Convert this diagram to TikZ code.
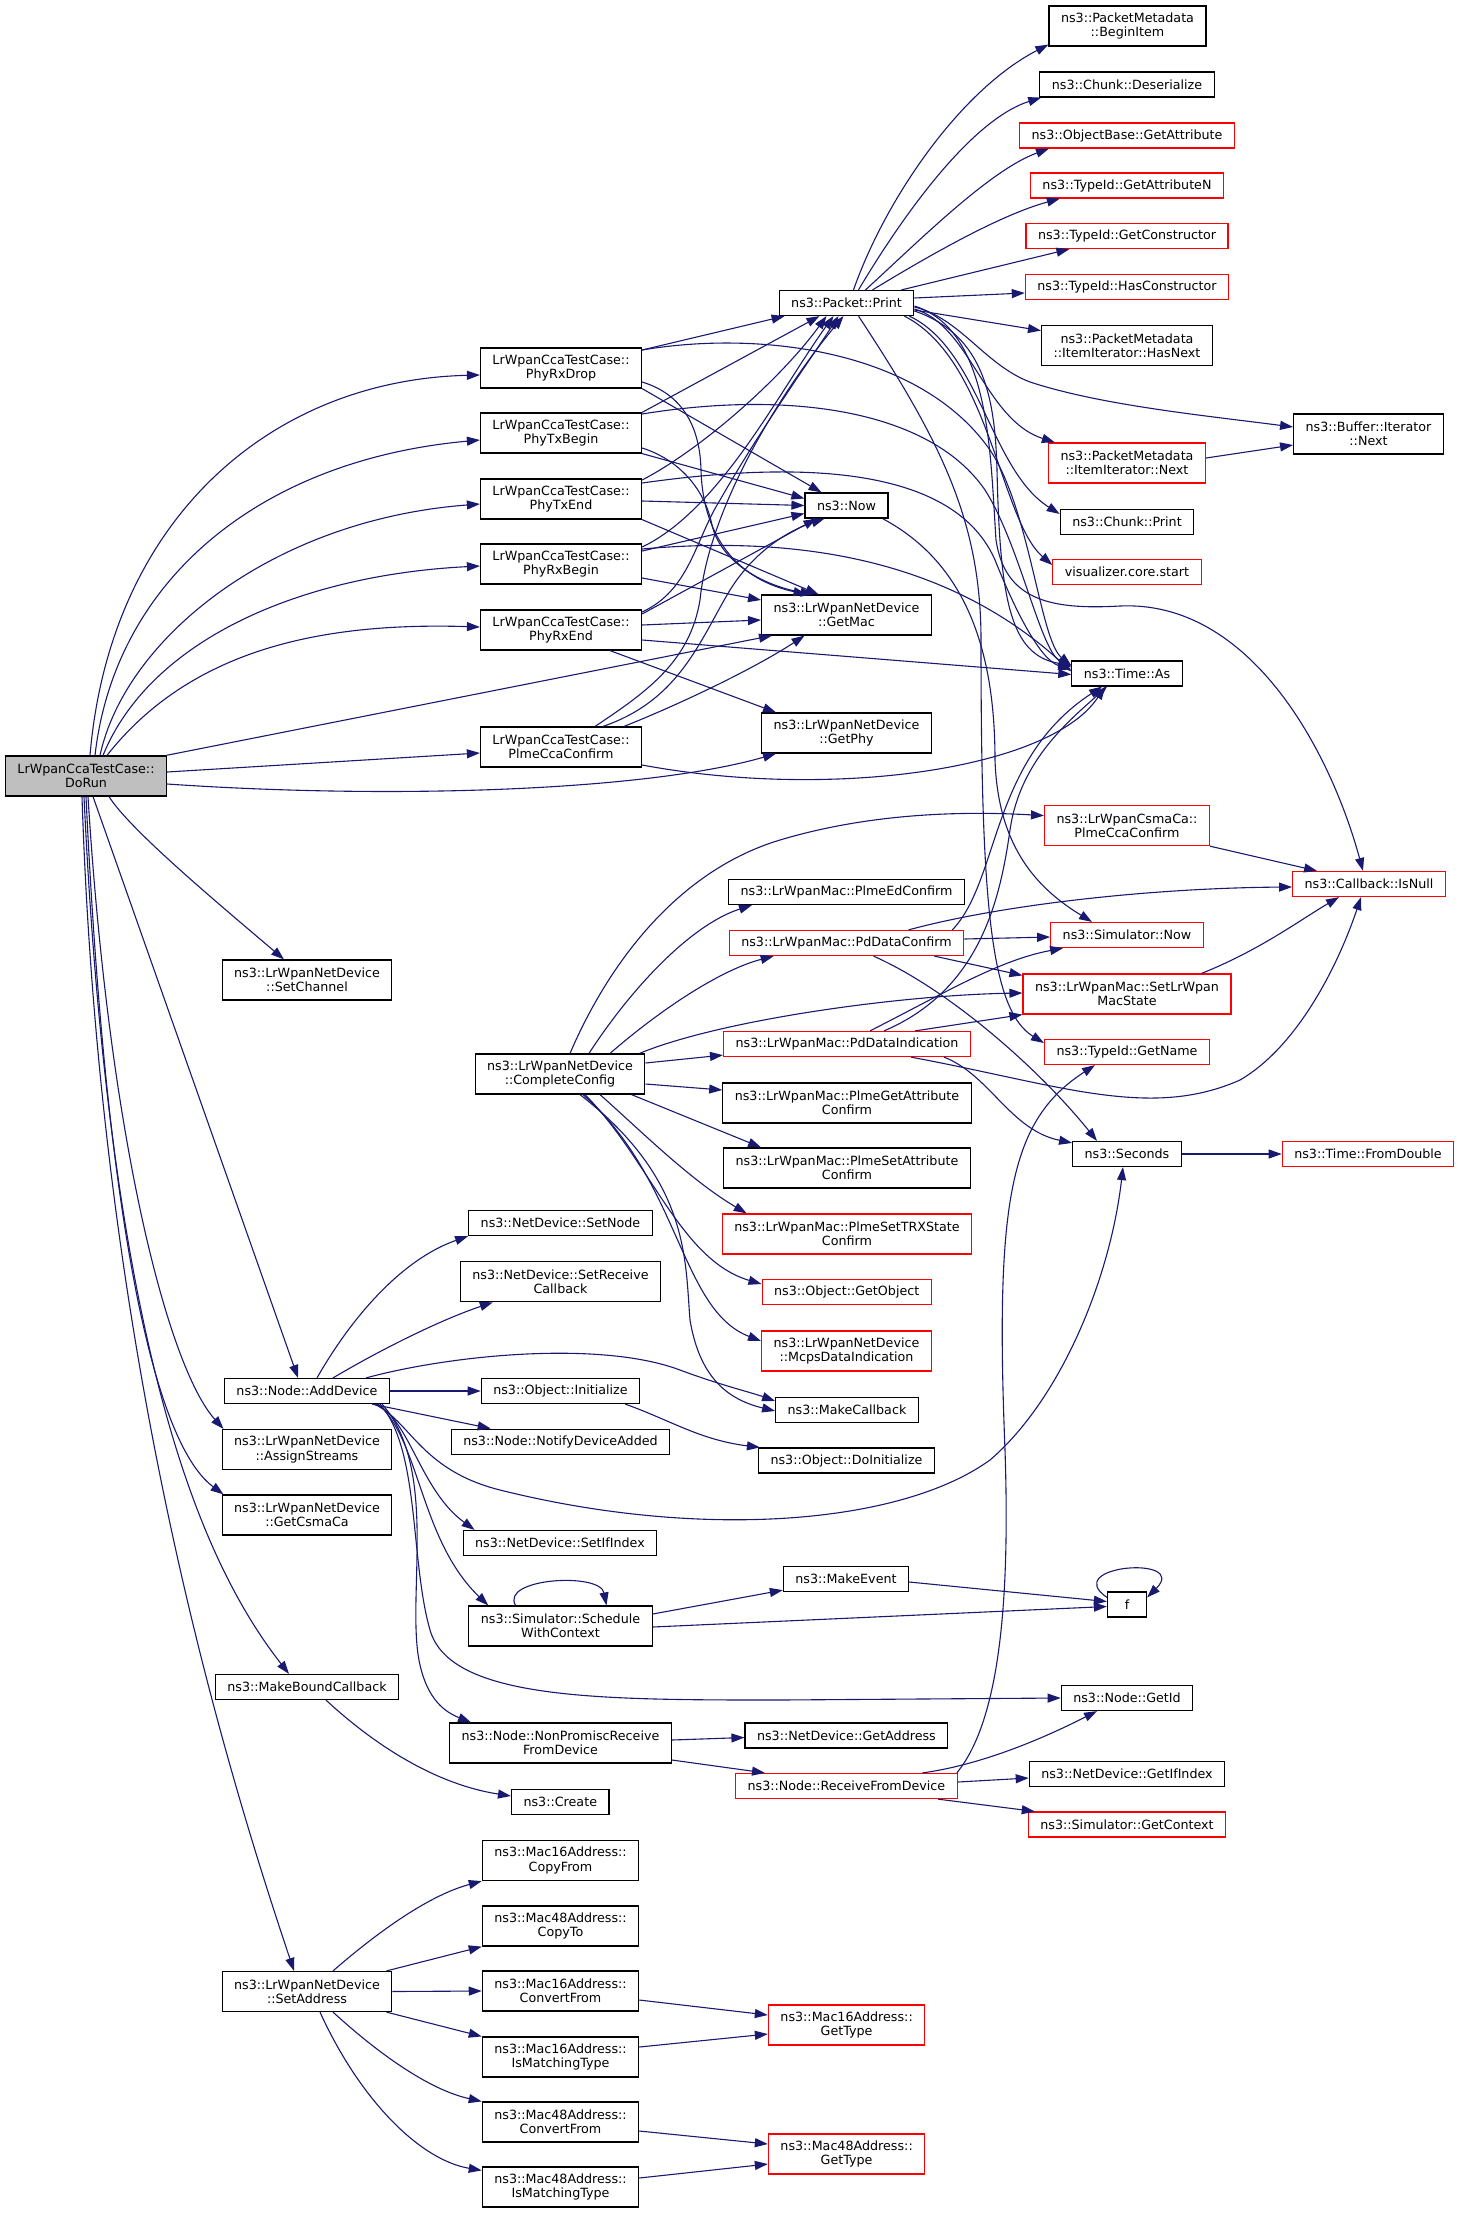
\documentclass[tikz,border=0pt]{standalone}
\usepackage{fontspec}
\setmainfont{DejaVu Sans}
\usetikzlibrary{arrows.meta}
\definecolor{edgeblue}{HTML}{191970}
\definecolor{nodered}{HTML}{FF0000}
\definecolor{rootgray}{HTML}{BFBFBF}
\begin{document}
\begin{tikzpicture}[x=1pt,y=-1pt,
  nb/.style={draw=black, line width=1.2pt, fill=white, inner xsep=12pt, inner ysep=1pt,
    minimum height=25pt, align=center, font=\fontsize{12.7}{14.3}\selectfont},
  nb2/.style={nb, minimum height=40pt},
  nr/.style={nb, draw=nodered},
  nr2/.style={nb2, draw=nodered},
  e/.style={draw=edgeblue, line width=1.1pt, -{Triangle[length=13pt,width=9pt]}}]
\fill[white] (0,0) rectangle (1460,2213);
\useasboundingbox (0,0) rectangle (1460,2213);

% ---- nodes ----
\node[nb2, fill=rootgray] (dorun) at (86,776) {LrWpanCcaTestCase::\\DoRun};
\node[nb2] (rxdrop) at (561,368) {LrWpanCcaTestCase::\\PhyRxDrop};
\node[nb2] (txbegin) at (561,433) {LrWpanCcaTestCase::\\PhyTxBegin};
\node[nb2] (txend) at (561,499) {LrWpanCcaTestCase::\\PhyTxEnd};
\node[nb2] (rxbegin) at (561,564) {LrWpanCcaTestCase::\\PhyRxBegin};
\node[nb2] (rxend) at (561,630) {LrWpanCcaTestCase::\\PhyRxEnd};
\node[nb2] (plmecca) at (561,747) {LrWpanCcaTestCase::\\PlmeCcaConfirm};
\node[nb2] (setchannel) at (307,980) {ns3::LrWpanNetDevice\\::SetChannel};
\node[nb] (adddevice) at (307,1391) {ns3::Node::AddDevice};
\node[nb2] (assign) at (307,1449.5) {ns3::LrWpanNetDevice\\::AssignStreams};
\node[nb2] (getcsma) at (307,1515) {ns3::LrWpanNetDevice\\::GetCsmaCa};
\node[nb] (mkbound) at (307,1687) {ns3::MakeBoundCallback};
\node[nb2] (setaddr) at (307,1991.5) {ns3::LrWpanNetDevice\\::SetAddress};

\node[nb2] (complete) at (560,1074) {ns3::LrWpanNetDevice\\::CompleteConfig};
\node[nb] (setnode) at (560.5,1223) {ns3::NetDevice::SetNode};
\node[nb2] (setrecv) at (560.5,1281.7) {ns3::NetDevice::SetReceive\\Callback};
\node[nb] (init) at (560.5,1391) {ns3::Object::Initialize};
\node[nb] (notify) at (560.5,1441.6) {ns3::Node::NotifyDeviceAdded};
\node[nb] (setif) at (560,1543) {ns3::NetDevice::SetIfIndex};
\node[nb2] (sched) at (560.5,1626) {ns3::Simulator::Schedule\\WithContext};
\node[nb2] (nonprom) at (560.5,1743) {ns3::Node::NonPromiscReceive\\FromDevice};
\node[nb] (create) at (560.3,1802) {ns3::Create};
\node[nb2] (copyfrom) at (560.5,1860.5) {ns3::Mac16Address::\\CopyFrom};
\node[nb2] (copyto) at (560.5,1926) {ns3::Mac48Address::\\CopyTo};
\node[nb2] (conv16) at (560.5,1991) {ns3::Mac16Address::\\ConvertFrom};
\node[nb2] (match16) at (560.5,2057) {ns3::Mac16Address::\\IsMatchingType};
\node[nb2] (conv48) at (560.5,2122) {ns3::Mac48Address::\\ConvertFrom};
\node[nb2] (match48) at (560.5,2187) {ns3::Mac48Address::\\IsMatchingType};

\node[nb] (print) at (846.5,303) {ns3::Packet::Print};
\node[nb] (now) at (846.5,505.5) {ns3::Now};
\node[nb2] (getmac) at (846.5,615) {ns3::LrWpanNetDevice\\::GetMac};
\node[nb2] (getphy) at (846.5,733) {ns3::LrWpanNetDevice\\::GetPhy};
\node[nb] (edconf) at (846.5,892) {ns3::LrWpanMac::PlmeEdConfirm};
\node[nr] (pdconf) at (846.5,943) {ns3::LrWpanMac::PdDataConfirm};
\node[nr] (pdind) at (847,1044) {ns3::LrWpanMac::PdDataIndication};
\node[nb2] (getattr) at (847,1103) {ns3::LrWpanMac::PlmeGetAttribute\\Confirm};
\node[nb2] (setattr) at (847,1168) {ns3::LrWpanMac::PlmeSetAttribute\\Confirm};
\node[nr2] (settrx) at (847,1234) {ns3::LrWpanMac::PlmeSetTRXState\\Confirm};
\node[nr] (getobj) at (846.7,1292) {ns3::Object::GetObject};
\node[nr2] (mcps) at (846.5,1351) {ns3::LrWpanNetDevice\\::McpsDataIndication};
\node[nb] (mkcb) at (847,1410) {ns3::MakeCallback};
\node[nb] (doinit) at (846.5,1460.5) {ns3::Object::DoInitialize};
\node[nb] (mkevent) at (846,1579) {ns3::MakeEvent};
\node[nb] (getaddr) at (846.4,1735.5) {ns3::NetDevice::GetAddress};
\node[nr] (recv) at (846.4,1786) {ns3::Node::ReceiveFromDevice};
\node[nr2] (gt16) at (846.6,2025) {ns3::Mac16Address::\\GetType};
\node[nr2] (gt48) at (846.6,2154) {ns3::Mac48Address::\\GetType};

\node[nb2] (beginitem) at (1127.5,26) {ns3::PacketMetadata\\::BeginItem};
\node[nb] (deser) at (1127,84.5) {ns3::Chunk::Deserialize};
\node[nr] (getattrib) at (1127,135.5) {ns3::ObjectBase::GetAttribute};
\node[nr] (getattrn) at (1127,185.5) {ns3::TypeId::GetAttributeN};
\node[nr] (getctor) at (1127,236) {ns3::TypeId::GetConstructor};
\node[nr] (hasctor) at (1127,287) {ns3::TypeId::HasConstructor};
\node[nb2] (hasnext) at (1127,345.6) {ns3::PacketMetadata\\::ItemIterator::HasNext};
\node[nr2] (itnext) at (1127,463) {ns3::PacketMetadata\\::ItemIterator::Next};
\node[nb] (chprint) at (1127,522) {ns3::Chunk::Print};
\node[nr] (vis) at (1127,572) {visualizer.core.start};
\node[nb] (timeas) at (1127,673.5) {ns3::Time::As};
\node[nr2] (csmacca) at (1127,825.6) {ns3::LrWpanCsmaCa::\\PlmeCcaConfirm};
\node[nr] (simnow) at (1127,935) {ns3::Simulator::Now};
\node[nr2] (setstate) at (1127,994) {ns3::LrWpanMac::SetLrWpan\\MacState};
\node[nr] (getname) at (1127,1052) {ns3::TypeId::GetName};
\node[nb] (seconds) at (1127,1154) {ns3::Seconds};
\node[nb, minimum width=39pt, inner xsep=4pt] (f) at (1127,1604.5) {f};
\node[nb] (getid) at (1127,1698) {ns3::Node::GetId};
\node[nb] (getifidx) at (1127,1774) {ns3::NetDevice::GetIfIndex};
\node[nr] (getctx) at (1127,1824.5) {ns3::Simulator::GetContext};

\node[nb2] (bufnext) at (1368.5,434) {ns3::Buffer::Iterator\\::Next};
\node[nr] (isnull) at (1369,884) {ns3::Callback::IsNull};
\node[nr] (fromdouble) at (1368,1154) {ns3::Time::FromDouble};

% ---- edges from DoRun ----
\draw[e] ([xshift=4pt]dorun.north) .. controls (110,520) and (270,380) .. ([yshift=-7pt]rxdrop.west);
\draw[e] ([xshift=9pt]dorun.north) .. controls (115,580) and (260,460) .. ([yshift=-7pt]txbegin.west);
\draw[e] ([xshift=14pt]dorun.north) .. controls (125,640) and (270,520) .. ([yshift=-5pt]txend.west);
\draw[e] ([xshift=17pt]dorun.north) .. controls (150,640) and (300,575) .. ([yshift=-2pt]rxbegin.west);
\draw[e] ([xshift=21pt]dorun.north) .. controls (190,650) and (320,622) .. ([yshift=3pt]rxend.west);
\draw[e] ([xshift=-1pt]dorun.north east) -- ([xshift=11pt]getmac.south west);
\draw[e] ([yshift=4pt]dorun.east) -- ([yshift=-6pt]plmecca.west);
\draw[e] ([yshift=-8pt]dorun.east) .. controls (400,800) and (650,790) .. ([xshift=15pt]getphy.south west);
\draw[e] ([xshift=23pt]dorun.south) .. controls (130,830) and (220,905) .. ([xshift=-23pt]setchannel.north);
\draw[e] ([xshift=7pt]dorun.south) -- ([xshift=-9pt]adddevice.north);
\draw[e] ([xshift=2pt]dorun.south) .. controls (110,1150) and (170,1370) .. ([xshift=2pt]assign.north west);
\draw[e] (dorun.south) .. controls (105,1200) and (150,1440) .. ([xshift=2pt]getcsma.north west);
\draw[e] ([xshift=-2pt]dorun.south) .. controls (110,1350) and (200,1560) .. ([xshift=-18pt]mkbound.north);
\draw[e] ([xshift=-4pt]dorun.south) .. controls (100,1350) and (220,1750) .. ([xshift=-13pt]setaddr.north);

% ---- Phy callbacks ----
\draw[e] ([yshift=18pt]rxdrop.east) -- ([xshift=6pt]print.south west);
\draw[e] ([yshift=18pt]rxdrop.east) .. controls (760,330) and (920,350) .. (990,450) .. controls (1030,510) and (1040,640) .. ([yshift=8pt]timeas.west);
\draw[e] (rxdrop.south east) -- ([xshift=-25pt]now.north);
\draw[e] ([yshift=-14pt]rxdrop.east) .. controls (685,395) and (700,430) .. (701,470) .. controls (703,540) and (740,580) .. ([xshift=-40pt]getmac.north);

\draw[e] (txbegin.north east) -- ([xshift=-27pt]print.south);
\draw[e] ([yshift=19pt]txbegin.east) .. controls (790,390) and (930,410) .. (985,490) .. controls (1020,545) and (1040,650) .. ([yshift=6pt]timeas.west);
\draw[e] (txbegin.south east) -- ([yshift=7pt]now.west);
\draw[e] ([yshift=-15pt]txbegin.east) .. controls (680,460) and (705,490) .. (712,525) .. controls (720,560) and (760,585) .. ([xshift=-33pt]getmac.north);

\draw[e] ([yshift=19pt]txend.east) .. controls (700,450) and (780,380) .. ([xshift=-20pt]print.south);
\draw[e] ([yshift=16pt]txend.east) .. controls (840,455) and (960,480) .. (995,560) .. controls (1015,610) and (1040,660) .. ([yshift=4pt]timeas.west);
\draw[e] ([yshift=-2pt]txend.east) -- (now.west);
\draw[e] (txend.south east) -- ([xshift=-28pt]getmac.north);

\draw[e] ([yshift=17pt]rxbegin.east) .. controls (720,510) and (780,390) .. ([xshift=-13pt]print.south);
\draw[e] ([yshift=15pt]rxbegin.east) .. controls (800,535) and (950,560) .. ([yshift=2pt]timeas.west);
\draw[e] ([yshift=13pt]rxbegin.east) -- ([yshift=-8pt]now.west);
\draw[e] ([yshift=-14pt]rxbegin.east) -- ([yshift=15pt]getmac.west);

\draw[e] ([yshift=18pt]rxend.east) .. controls (690,590) and (695,540) .. (720,500) .. controls (760,430) and (810,360) .. ([xshift=-8pt]print.south);
\draw[e] ([yshift=16pt]rxend.east) -- ([xshift=-30pt]now.south);
\draw[e] ([yshift=5pt]rxend.east) -- ([yshift=-5pt]getmac.west);
\draw[e] ([yshift=-10pt]rxend.east) -- ([yshift=-1pt]timeas.west);
\draw[e] ([xshift=49pt]rxend.south) -- ([xshift=15pt]getphy.north west);

\draw[e] ([xshift=34pt]plmecca.north) .. controls (650,690) and (690,660) .. (700,600) .. controls (710,500) and (790,380) .. ([xshift=-3pt]print.south);
\draw[e] ([xshift=42pt]plmecca.north) .. controls (680,700) and (700,640) .. (730,590) .. controls (755,550) and (790,530) .. ([xshift=-22pt]now.south);
\draw[e] ([xshift=63pt]plmecca.north) .. controls (690,700) and (760,665) .. ([xshift=-42pt]getmac.south);
\draw[e] ([yshift=-18pt]plmecca.east) .. controls (830,800) and (1050,770) .. ([xshift=-22pt]timeas.south);

% ---- Packet::Print ----
\draw[e] ([xshift=7pt]print.north) .. controls (885,200) and (960,90) .. ([yshift=2pt]beginitem.south west);
\draw[e] ([xshift=12pt]print.north) .. controls (900,220) and (970,120) .. ([xshift=2pt]deser.south west);
\draw[e] ([xshift=19pt]print.north) .. controls (920,240) and (990,170) .. ([xshift=30pt]getattrib.south west);
\draw[e] ([xshift=26pt]print.north) .. controls (930,255) and (1000,215) .. ([xshift=30pt]getattrn.south west);
\draw[e] ([xshift=55pt]print.north) -- ([xshift=44pt]getctor.south west);
\draw[e] ([yshift=5pt]print.east) -- ([yshift=-6pt]hasctor.west);
\draw[e] ([yshift=-7pt]print.east) -- ([yshift=15pt]hasnext.west);
\draw[e] ([yshift=-4pt]print.east) .. controls (960,318) and (985,365) .. (1030,382) .. controls (1100,405) and (1200,415) .. ([yshift=7pt]bufnext.west);
\draw[e] ([yshift=-6pt]print.east) .. controls (970,325) and (985,420) .. ([xshift=7pt]itnext.north west);
\draw[e] ([xshift=-5pt]print.south east) .. controls (980,350) and (990,470) .. ([yshift=8pt]chprint.west);
\draw[e] ([xshift=-10pt]print.south east) .. controls (990,360) and (1000,520) .. ([yshift=7pt]vis.west);
\draw[e] ([yshift=-8pt]print.east) .. controls (985,335) and (995,400) .. (997,470) .. controls (1000,600) and (1010,655) .. ([yshift=8pt]timeas.west);
\draw[e] ([yshift=-3pt]print.east) .. controls (990,330) and (990,450) .. (996,540) .. controls (1005,600) and (1050,610) .. (1120,606) .. controls (1250,600) and (1330,750) .. ([xshift=-6pt]isnull.north);
\draw[e] ([xshift=12pt]print.south) .. controls (940,440) and (981,520) .. (981,640) .. controls (981,900) and (990,1010) .. ([yshift=9pt]getname.west);
\draw[e] ([yshift=5pt]itnext.east) -- ([yshift=-11pt]bufnext.west);

\draw[e] ([xshift=-6pt]now.south east) .. controls (960,560) and (995,640) .. (995,760) .. controls (998,850) and (1040,890) .. ([xshift=-35pt]simnow.north);

% ---- CompleteConfig ----
\draw[e] ([xshift=10pt]complete.north) .. controls (610,960) and (680,870) .. (780,840) .. controls (880,810) and (980,812) .. ([yshift=10pt]csmacca.west);
\draw[e] ([xshift=29pt]complete.north) .. controls (630,990) and (690,925) .. ([xshift=24pt]edconf.south west);
\draw[e] ([xshift=50pt]complete.north) .. controls (660,1010) and (720,970) .. ([xshift=45pt]pdconf.south west);
\draw[e] ([xshift=-6pt]complete.north east) .. controls (720,1020) and (900,995) .. ([yshift=1pt]setstate.west);
\draw[e] ([yshift=11pt]complete.east) -- ([yshift=2pt]pdind.south west);
\draw[e] ([yshift=-10pt]complete.east) -- ([yshift=13pt]getattr.west);
\draw[e] ([xshift=-14pt]complete.south east) -- ([xshift=38pt]setattr.north west);
\draw[e] ([xshift=40pt]complete.south) .. controls (640,1130) and (690,1180) .. ([xshift=25pt]settrx.north west);
\draw[e] ([xshift=25pt]complete.south) .. controls (650,1160) and (680,1260) .. ([yshift=8pt]getobj.west);
\draw[e] ([xshift=23pt]complete.south) .. controls (680,1180) and (680,1310) .. ([yshift=10pt]mcps.west);
\draw[e] ([xshift=20pt]complete.south) .. controls (690,1180) and (685,1260) .. (690,1320) .. controls (700,1380) and (730,1400) .. ([yshift=-1pt]mkcb.west);

% ---- MAC internals ----
\draw[e] (csmacca.south east) -- ([xshift=25pt]isnull.north west);
\draw[e] ([xshift=62pt]pdconf.north) .. controls (1000,905) and (1150,888) .. ([yshift=-3pt]isnull.west);
\draw[e] ([yshift=4pt]pdconf.east) -- ([yshift=-2pt]simnow.west);
\draw[e] ([xshift=-30pt]pdconf.south east) -- ([yshift=-2pt]setstate.north west);
\draw[e] ([xshift=27pt]pdconf.south) .. controls (950,990) and (1040,1070) .. ([xshift=-30pt]seconds.north);
\draw[e] ([xshift=-12pt]pdconf.north east) .. controls (1000,880) and (990,760) .. ([xshift=-25pt]timeas.south);
\draw[e] ([xshift=37pt]pdind.north) .. controls (980,990) and (1000,900) .. (1010,830) .. controls (1020,760) and (1070,720) .. ([xshift=-20pt]timeas.south);
\draw[e] ([xshift=23pt]pdind.north) .. controls (950,990) and (1000,960) .. ([xshift=13pt]simnow.south west);
\draw[e] ([xshift=68pt]pdind.north) -- (setstate.south west);
\draw[e] ([xshift=-27pt]pdind.south east) .. controls (990,1075) and (1010,1130) .. ([yshift=-2pt]seconds.north west);
\draw[e] ([xshift=-60pt]pdind.south east) .. controls (1060,1085) and (1150,1120) .. (1240,1080) .. controls (1300,1045) and (1340,960) .. ([xshift=-8pt]isnull.south);
\draw[e] ([xshift=-30pt]setstate.north east) .. controls (1260,950) and (1300,920) .. ([xshift=-30pt]isnull.south);
\draw[e] (seconds.east) -- (fromdouble.west);

% ---- AddDevice ----
\draw[e] ([xshift=10pt]adddevice.north) .. controls (350,1320) and (400,1260) .. (setnode.south west);
\draw[e] ([xshift=26pt]adddevice.north) .. controls (380,1350) and (440,1320) .. ([xshift=33pt]setrecv.south west);
\draw[e] ([xshift=-24pt]adddevice.north east) .. controls (450,1355) and (600,1340) .. (680,1370) .. controls (720,1385) and (750,1392) .. ([yshift=9pt]mkcb.west);
\draw[e] (adddevice.east) -- (init.west);
\draw[e] ([xshift=-18pt]adddevice.south east) -- ([xshift=40pt]notify.north west);
\draw[e] ([xshift=-16pt]adddevice.south east) .. controls (410,1420) and (420,1470) .. (500,1490) .. controls (700,1540) and (900,1525) .. (990,1460) .. controls (1060,1400) and (1110,1280) .. ([xshift=-4pt]seconds.south);
\draw[e] ([xshift=-14pt]adddevice.south east) .. controls (410,1420) and (420,1490) .. ([xshift=12pt]setif.north west);
\draw[e] ([xshift=-12pt]adddevice.south east) .. controls (420,1440) and (420,1540) .. ([xshift=20pt]sched.north west);
\draw[e] ([xshift=-10pt]adddevice.south east) .. controls (420,1450) and (410,1560) .. (430,1630) .. controls (450,1700) and (600,1700) .. (780,1700) -- (getid.west);
\draw[e] ([xshift=-8pt]adddevice.south east) .. controls (440,1470) and (405,1600) .. (420,1665) .. controls (428,1700) and (445,1712) .. ([xshift=22pt]nonprom.north west);
\draw[e] ([xshift=-15pt]init.south east) .. controls (670,1420) and (700,1440) .. ([xshift=2pt]doinit.north west);

% ---- scheduling ----
\draw[e] ([xshift=-45pt]sched.north) .. controls (500,1578) and (600,1572) .. ([xshift=46pt]sched.north);
\draw[e] ([yshift=12pt]sched.east) -- ([yshift=2pt]mkevent.south west);
\draw[e] ([yshift=-1pt]sched.east) -- ([yshift=-2pt]f.west);
\draw[e] ([yshift=-3pt]mkevent.east) -- ([yshift=3pt]f.west);
\draw[e] ([yshift=-6pt]f.north west) .. controls (1060,1565) and (1190,1555) .. ([yshift=-6pt]f.north east);

% ---- receive path ----
\draw[e] ([xshift=19pt]mkbound.south) .. controls (380,1750) and (440,1785) .. ([yshift=6pt]create.west);
\draw[e] ([yshift=3pt]nonprom.east) -- ([yshift=-2pt]getaddr.west);
\draw[e] ([yshift=-17pt]nonprom.east) -- ([xshift=30pt]recv.north west);
\draw[e] ([xshift=76pt]recv.north) .. controls (980,1765) and (1040,1740) .. ([xshift=-30pt]getid.south);
\draw[e] ([yshift=4pt]recv.east) -- ([yshift=-4pt]getifidx.west);
\draw[e] ([xshift=-20pt]recv.south east) -- ([xshift=7pt]getctx.north west);
\draw[e] ([xshift=-1pt]recv.north east) .. controls (1000,1720) and (1010,1600) .. (1005,1450) .. controls (995,1200) and (1010,1120) .. ([xshift=-32pt]getname.south);

% ---- SetAddress ----
\draw[e] ([xshift=26pt]setaddr.north) .. controls (380,1930) and (430,1895) .. (copyfrom.south west);
\draw[e] ([xshift=-6pt]setaddr.north east) -- (copyto.south west);
\draw[e] (setaddr.east) -- (conv16.west);
\draw[e] ([xshift=-6pt]setaddr.south east) -- (match16.north west);
\draw[e] ([xshift=26pt]setaddr.south) .. controls (380,2055) and (430,2090) .. (conv48.north west);
\draw[e] ([xshift=13pt]setaddr.south) .. controls (360,2100) and (420,2160) .. ([yshift=-4pt]match48.north west);
\draw[e] ([yshift=-9pt]conv16.east) -- ([yshift=10pt]gt16.west);
\draw[e] ([yshift=10pt]match16.east) -- ([yshift=-9pt]gt16.west);
\draw[e] ([yshift=-9pt]conv48.east) -- ([yshift=10pt]gt48.west);
\draw[e] ([yshift=9pt]match48.east) -- ([yshift=-10pt]gt48.west);
\end{tikzpicture}
\end{document}
